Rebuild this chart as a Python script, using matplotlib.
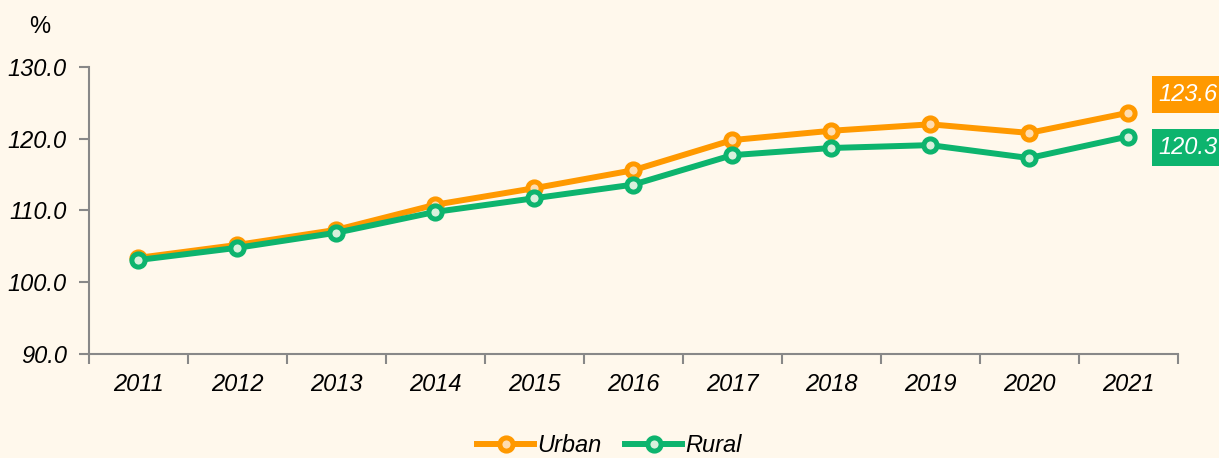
import numpy as np
import matplotlib.pyplot as plt

years = ['2011', '2012', '2013', '2014', '2015', '2016',
         '2017', '2018', '2019', '2020', '2021']
urban = [103.4, 105.2, 107.3, 110.8, 113.1, 115.6, 119.8, 121.1, 122.0, 120.8, 123.6]
rural = [103.1, 104.8, 106.9, 109.8, 111.7, 113.6, 117.7, 118.7, 119.1, 117.3, 120.3]

BG = '#FFF8EC'
ORANGE = '#FF9900'
GREEN = '#0DB46E'
GREY = '#888888'

plt.rcParams['font.family'] = ['Liberation Sans', 'DejaVu Sans']

fig = plt.figure(figsize=(12.19, 4.58), dpi=100, facecolor=BG)
ax = fig.add_axes([0.073, 0.227, 0.893, 0.627], facecolor=BG)

x = np.arange(len(years))
ax.plot(x, urban, color=ORANGE, lw=4.3, marker='o', ms=9.5, mew=3.6,
        mfc='#FFDDB0', mec=ORANGE, label='Urban', zorder=3)
ax.plot(x, rural, color=GREEN, lw=4.3, marker='o', ms=9.5, mew=3.6,
        mfc='#D9F0DC', mec=GREEN, label='Rural', zorder=4)

ax.set_xlim(-0.5, len(years) - 0.5)
ax.set_ylim(90, 130)
yt = np.arange(90, 131, 10)
ax.set_yticks(yt)
ax.set_yticklabels([f'{v:.1f}' for v in yt], fontsize=17, fontstyle='italic')
ax.set_xticks(x)
ax.set_xticklabels(years, fontsize=17, fontstyle='italic')
# ticks sit on category boundaries, labels in the middle
ax.set_xticks(np.arange(-0.5, len(years), 1), minor=True)
ax.tick_params(axis='x', which='major', length=0, pad=14)
ax.tick_params(axis='x', which='minor', length=7, color=GREY, width=1.5)
ax.tick_params(axis='y', length=7, color=GREY, width=1.5, pad=9)

for s in ['top', 'right']:
    ax.spines[s].set_visible(False)
for s in ['left', 'bottom']:
    ax.spines[s].set_color(GREY)
    ax.spines[s].set_linewidth(1.5)

fig.text(0.024, 0.928, '%', fontsize=17)

# value tags for the last year
tag = dict(textcoords='offset points', ha='left', va='center',
           fontsize=17, fontstyle='italic', color='white',
           annotation_clip=False)
ax.annotate(f'{urban[-1]:.1f}', xy=(x[-1], urban[-1]), xytext=(22, 13),
            bbox=dict(boxstyle='square,pad=0.3', fc=ORANGE, ec='none'), **tag)
ax.annotate(f'{rural[-1]:.1f}', xy=(x[-1], rural[-1]), xytext=(22, -8),
            bbox=dict(boxstyle='square,pad=0.3', fc=GREEN, ec='none'), **tag)

fig.legend(loc='lower center', bbox_to_anchor=(0.5, -0.045), ncol=2,
           frameon=False, handlelength=2.4, columnspacing=1.0,
           handletextpad=0.15, prop=dict(size=17, style='italic'))

fig.savefig('out.png', dpi=100, facecolor=BG)
